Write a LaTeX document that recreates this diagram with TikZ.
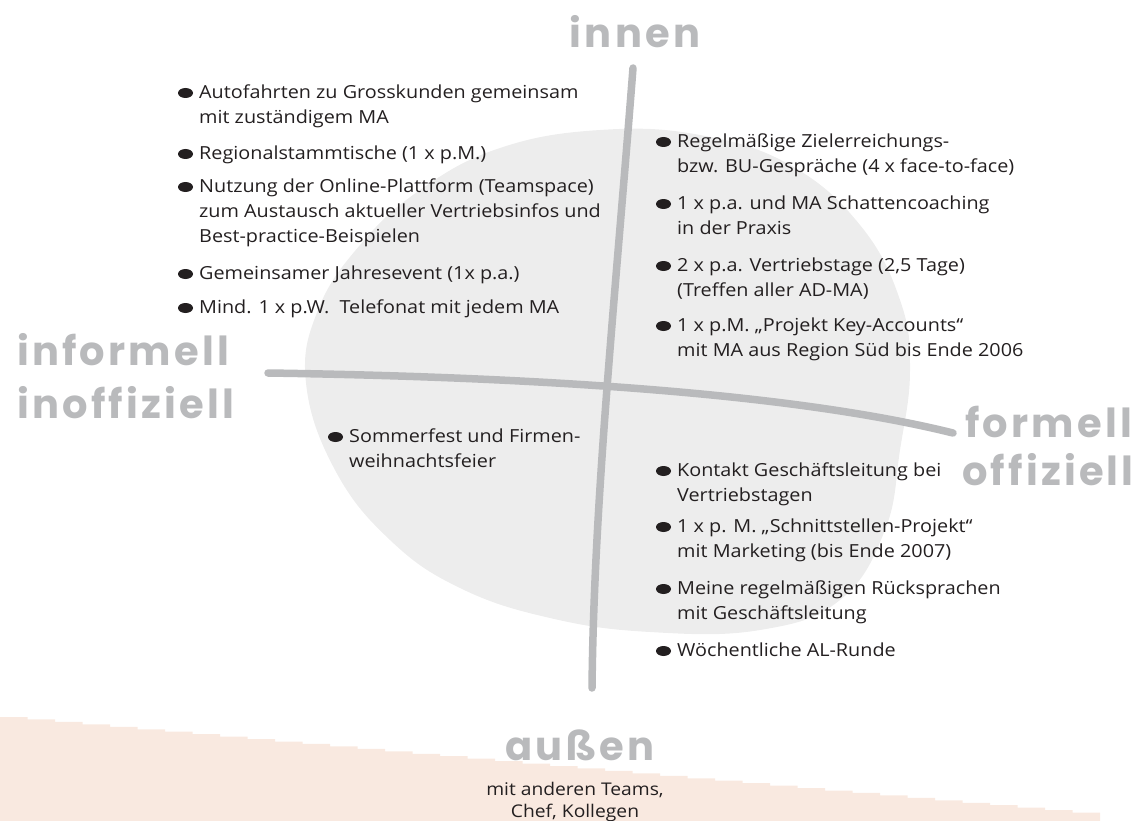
\documentclass[tikz,border=0pt]{standalone}
\usepackage{fontspec}
\setmainfont{Open Sans}[FakeStretch=1.1]
\newfontfamily\handfont[LetterSpace=8]{Poppins}
\usetikzlibrary{positioning}
\definecolor{axisgray}{HTML}{B9BABC}
\definecolor{discgray}{HTML}{EDEDED}
\definecolor{bandpeach}{HTML}{F9E9E0}
\definecolor{inkblack}{HTML}{231F20}

\begin{document}
\begin{tikzpicture}[x=1pt, y=-1pt,
  item/.style={anchor=north west, inner sep=0pt, align=left, text=inkblack,
    font=\fontsize{18}{25}\selectfont},
  hand/.style={inner sep=0pt, text=axisgray, font=\handfont\bfseries\fontsize{40}{50}\selectfont},
  axis/.style={draw=axisgray, line width=7.5pt, line cap=round}
]
\useasboundingbox (0,0) rectangle (1142,821);

% band at the bottom, drawn as steps
\fill[bandpeach] (0,821) -- (0,717)
  \foreach \i in {1,...,40} { -- ++(27.5,0) -- ++(0,2.45) } -- (1100,821) -- cycle;

% grey disc
\fill[discgray] plot[smooth cycle, tension=0.7] coordinates {
  (306,383) (318,310) (360,245) (420,190) (500,148) (600,130) (700,135)
  (790,165) (860,225) (900,300) (910,370) (900,450) (885,530) (840,600)
  (760,630) (650,632) (550,618) (460,588) (390,540) (335,470)};

% axes
\coordinate (top) at (633,68);
\coordinate (bottom) at (592,688);
\coordinate (left) at (268,373);
\coordinate (right) at (953,433);
\draw[axis] (top) .. controls (615,300) and (594,500) .. (bottom);
\draw[axis] (left) .. controls (600,378) and (820,400) .. (right);

% axis labels
\node[hand, anchor=base] (innen) at (635,48) {innen};
\node[hand, anchor=base west] (informell) at (17,365) {informell};
\node[hand, anchor=base west] (inoffiziell) at (17,418) {inoffiziell};
\node[hand, anchor=base west] (formell) at (965,437) {formell};
\node[hand, anchor=base west] (offiziell) at (962,485) {offiziell};
\node[hand, anchor=base] (aussen) at (580,760) {außen};

% upper left
\node[item] (l1) at (199,85) {Autofahrten zu Grosskunden gemeinsam\\mit zuständigem MA};
\node[item] (l2) at (199,146) {Regionalstammtische (1 x p.M.)};
\node[item] (l3) at (199,179) {Nutzung der Online-Plattform (Teamspace)\\zum Austausch aktueller Vertriebsinfos und\\Best-practice-Beispielen};
\node[item] (l4) at (199,266) {Gemeinsamer Jahresevent (1x p.a.)};
\node[item] (l5) at (199,300) {Mind. 1 x p.W.\ \ Telefonat mit jedem MA};

% upper right
\node[item] (r1) at (677,134) {Regelmäßige Zielerreichungs-\\bzw. BU-Gespräche (4 x face-to-face)};
\node[item] (r2) at (677,196) {1 x p.a. und MA Schattencoaching\\in der Praxis};
\node[item] (r3) at (677,258) {2 x p.a. Vertriebstage (2,5 Tage)\\(Treffen aller AD-MA)};
\node[item] (r4) at (677,318) {1 x p.M. „Projekt Key-Accounts“\\mit MA aus Region Süd bis Ende 2006};

% lower left
\node[item] (s1) at (349,429) {Sommerfest und Firmen-\\weihnachtsfeier};

% lower right
\node[item] (b1) at (677,463) {Kontakt Geschäftsleitung bei\\Vertriebstagen};
\node[item] (b2) at (677,519) {1 x p. M. „Schnittstellen-Projekt“\\mit Marketing (bis Ende 2007)};
\node[item] (b3) at (677,581) {Meine regelmäßigen Rücksprachen\\mit Geschäftsleitung};
\node[item] (b4) at (677,643) {Wöchentliche AL-Runde};

\foreach \n in {l1,l2,l3,l4,l5,r1,r2,r3,r4,s1,b1,b2,b3,b4}
  \fill[inkblack] ([shift={(-13.5,8)}]\n.north west) ellipse [x radius=7.5pt, y radius=5pt];

% bottom note
\node[item, anchor=north, align=center, font=\fontsize{17.5}{22}\selectfont] (note) at (575,782) {mit anderen Teams,\\Chef, Kollegen};

\end{tikzpicture}
\end{document}
